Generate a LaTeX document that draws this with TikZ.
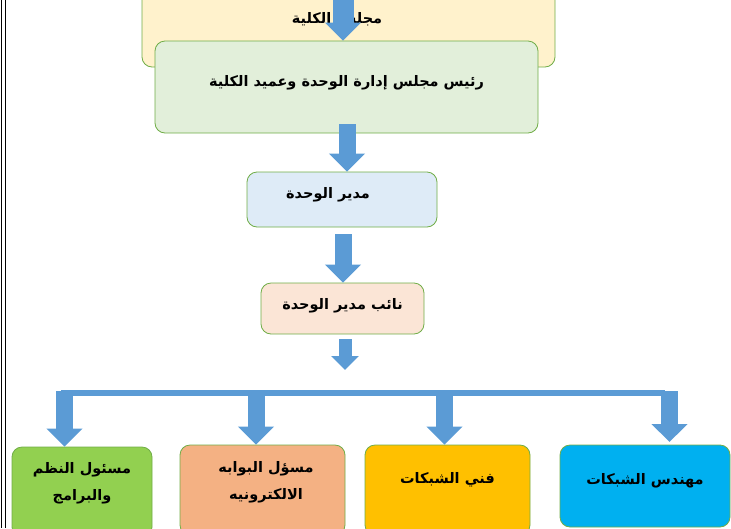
\documentclass[tikz,border=0pt]{standalone}
\usepackage{fontspec}
\usepackage{xcolor}
\usepackage{tikz}
\usetikzlibrary{arrows.meta, positioning}
\newfontfamily\arabicfont[Script=Arabic]{DejaVu Sans}
\TeXXeTstate=1
\definecolor{boxline}{HTML}{70AD47}
\definecolor{arrowblue}{HTML}{5B9BD5}
\definecolor{councilfill}{HTML}{FFF2CC}
\definecolor{headfill}{HTML}{E2EFDA}
\definecolor{managerfill}{HTML}{DEEBF7}
\definecolor{deputyfill}{HTML}{FBE5D6}
\definecolor{systemsfill}{HTML}{92D050}
\definecolor{portalfill}{HTML}{F4B183}
\definecolor{techfill}{HTML}{FFC000}
\definecolor{engfill}{HTML}{00B0F0}
\tikzstyle{box} = [rounded corners=10pt, draw=boxline, line width=0.8pt, align=center, inner sep=0pt, text height=11pt, text depth=4pt, font=\arabicfont\bfseries\fontsize{14.5}{27}\selectfont]
\tikzstyle{blockarrow} = [draw=arrowblue, line width=17pt, -{Triangle[length=18pt,width=35pt]}]

\begin{document}
\begin{tikzpicture}[x=1pt,y=-1pt]
        \useasboundingbox (0,0) rectangle (731,528);
        \clip (0,0) rectangle (731,528);

        % Page border
        \draw[line width=0.7pt] (1.5,0) -- (1.5,528);
        \draw[line width=0.7pt] (5.5,0) -- (5.5,528);

        % Top of the chart
        \node[box, fill=councilfill, minimum width=413pt, minimum height=92pt, text depth=6pt] (council) at (348.5,21) {\beginR مجلس الكلية\endR\hspace*{23pt}};
        \node[box, fill=headfill, minimum width=383pt, minimum height=92pt, text depth=12pt] (head) at (346.5,87) {\beginR رئيس مجلس إدارة الوحدة وعميد الكلية\endR};
        \node[box, fill=managerfill, minimum width=190pt, minimum height=55pt, text depth=13pt] (manager) at (342,199.5) {\beginR مدير الوحدة\endR\hspace*{28pt}};
        \node[box, fill=deputyfill, minimum width=163pt, minimum height=51pt, text depth=9pt] (deputy) at (342.5,308.5) {\beginR نائب مدير الوحدة\endR};

        % Bottom row
        \node[box, fill=systemsfill, minimum width=140pt, minimum height=90pt, text height=17pt, text depth=0pt] (systems) at (82,492) {\beginR مسئول النظم\endR\\\beginR والبرامج\endR};
        \node[box, fill=portalfill, minimum width=165pt, minimum height=90pt, text height=19pt, text depth=0pt] (portal) at (262.5,490) {\hspace*{7pt}\beginR مسؤل البوابه\endR\\\hspace*{7pt}\beginR الالكترونيه\endR};
        \node[box, fill=techfill, minimum width=165pt, minimum height=90pt, text depth=24pt] (tech) at (447.5,490) {\beginR فني الشبكات\endR};
        \node[box, fill=engfill, minimum width=170pt, minimum height=82pt, text depth=14pt] (engineer) at (645,486) {\beginR مهندس الشبكات\endR};

        % Arrows down the chain
        \coordinate (a1) at (343,0);
        \coordinate (a2) at (347,124);
        \coordinate (a3) at (343,234);
        \coordinate (a4) at (345,339);
        \coordinate (a4end) at (345,370);
        \draw[blockarrow, line width=21pt] (a1) -- (a1 |- head.north);
        \draw[blockarrow] (a2) -- (a2 |- manager.north);
        \draw[blockarrow] (a3) -- (a3 |- deputy.north);
        \draw[blockarrow, line width=13pt, -{Triangle[length=14pt,width=27pt]}] (a4) -- (a4end);

        % Branch bar
        \coordinate (barL) at (61,393);
        \coordinate (barR) at (665,393);
        \draw[arrowblue, line width=6.5pt] (barL) -- (barR);

        % Arrows to the bottom row
        \coordinate (b1) at (64.5,391);
        \coordinate (b2) at (256,391);
        \coordinate (b3) at (444.5,391);
        \coordinate (b4) at (669.5,391);
        \draw[blockarrow] (b1) -- (b1 |- systems.north);
        \draw[blockarrow] (b2) -- (b2 |- portal.north);
        \draw[blockarrow] (b3) -- (b3 |- tech.north);
        \draw[blockarrow] (b4) -- (669.5,442);
    \end{tikzpicture}
\end{document}
